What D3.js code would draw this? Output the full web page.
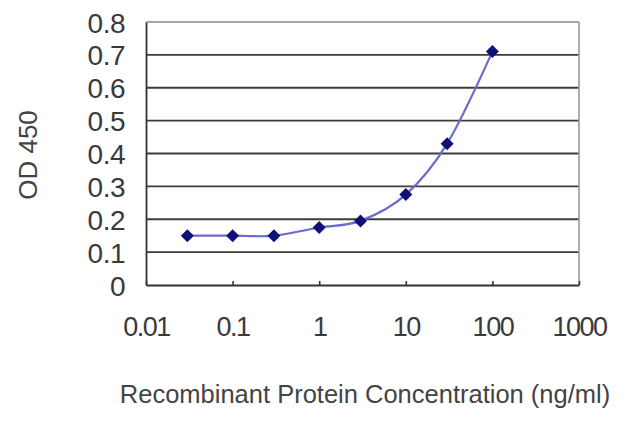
<!DOCTYPE html>
<html>
<head>
<meta charset="utf-8">
<script src="https://cdn.jsdelivr.net/npm/d3@7"></script>
<style>
  html, body { margin: 0; padding: 0; background: #fff; }
  svg { display: block; }
  text { font-family: "Liberation Sans", Arial, sans-serif; }
</style>
</head>
<body>
<svg id="chart" width="640" height="427"></svg>
<script>
// ---- data ----
const concentrations = [0.03, 0.1, 0.3, 1, 3, 10, 30, 100];
const od450 = [0.15, 0.15, 0.15, 0.175, 0.195, 0.275, 0.43, 0.71];
const xTickValues = [0.01, 0.1, 1, 10, 100, 1000];
const xTickLabels = ["0.01", "0.1", "1", "10", "100", "1000"];
const yTickValues = [0, 0.1, 0.2, 0.3, 0.4, 0.5, 0.6, 0.7, 0.8];
const yTickLabels = ["0", "0.1", "0.2", "0.3", "0.4", "0.5", "0.6", "0.7", "0.8"];
const xTitle = "Recombinant Protein Concentration (ng/ml)";
const yTitle = "OD 450";

// ---- layout ----
const plotLeft = 146, plotRight = 579, plotTop = 22, plotBottom = 285;
const svg = d3.select("#chart");
svg.append("rect").attr("width", 640).attr("height", 427).attr("fill", "#fff");

const x = d3.scaleLog().domain([0.01, 1000]).range([plotLeft, plotRight]);
const y = d3.scaleLinear().domain([0, 0.8]).range([plotBottom, plotTop]);

// gridlines
svg.append("g").selectAll("line")
  .data(yTickValues.filter(v => v > 0 && v < 0.8))
  .join("line")
  .attr("x1", plotLeft).attr("x2", plotRight)
  .attr("y1", d => y(d)).attr("y2", d => y(d))
  .attr("stroke", "#3c3c3c").attr("stroke-width", 1.8);

// top & right border
svg.append("line").attr("x1", plotLeft).attr("x2", plotRight).attr("y1", y(0.8)).attr("y2", y(0.8))
  .attr("stroke", "#8a8a8a").attr("stroke-width", 1.6);
svg.append("line").attr("x1", plotRight).attr("x2", plotRight).attr("y1", y(0.8)).attr("y2", y(0))
  .attr("stroke", "#9a9a9a").attr("stroke-width", 1.6);

// x axis
const xAxis = d3.axisBottom(x).tickValues(xTickValues)
  .tickFormat((d, i) => xTickLabels[i]).tickSize(-4).tickSizeOuter(0);
const gx = svg.append("g").attr("transform", `translate(0,${plotBottom})`).call(xAxis);
gx.select(".domain").attr("stroke", "#333").attr("stroke-width", 1.8);
gx.selectAll(".tick line").attr("stroke", "#333").attr("stroke-width", 1.6);
gx.selectAll(".tick text")
  .attr("y", 51).attr("dy", 0)
  .attr("fill", "#3a3a3a")
  .style("font-size", "27px")
  .style("letter-spacing", "-1.5px");

// y axis
const yAxis = d3.axisLeft(y).tickValues(yTickValues)
  .tickFormat((d, i) => yTickLabels[i]).tickSize(0).tickPadding(21);
const gy = svg.append("g").attr("transform", `translate(${plotLeft},0)`).call(yAxis);
gy.select(".domain").attr("stroke", "#333").attr("stroke-width", 1.8);
gy.selectAll(".tick text")
  .attr("dy", "0.36em")
  .attr("fill", "#3a3a3a")
  .style("font-size", "28px")
  .style("letter-spacing", "-0.5px");

// line
const pts = concentrations.map((c, i) => [x(c), y(od450[i])]);
svg.append("path")
  .attr("d", d3.line().curve(d3.curveCardinal.tension(0))(pts))
  .attr("fill", "none")
  .attr("stroke", "#6a6acc")
  .attr("stroke-width", 2.2);

// markers
svg.append("g").selectAll("path")
  .data(pts)
  .join("path")
  .attr("transform", d => `translate(${d[0]},${d[1]})`)
  .attr("d", "M0,-6.5L6.5,0L0,6.5L-6.5,0Z")
  .attr("fill", "#10107a");

// titles
svg.append("text")
  .attr("x", 365).attr("y", 403)
  .attr("text-anchor", "middle")
  .attr("fill", "#444")
  .style("font-size", "25.5px")
  .text(xTitle);

svg.append("text")
  .attr("transform", "translate(37,155) rotate(-90)")
  .attr("text-anchor", "middle")
  .attr("fill", "#444")
  .style("font-size", "26px")
  .text(yTitle);
</script>
</body>
</html>
